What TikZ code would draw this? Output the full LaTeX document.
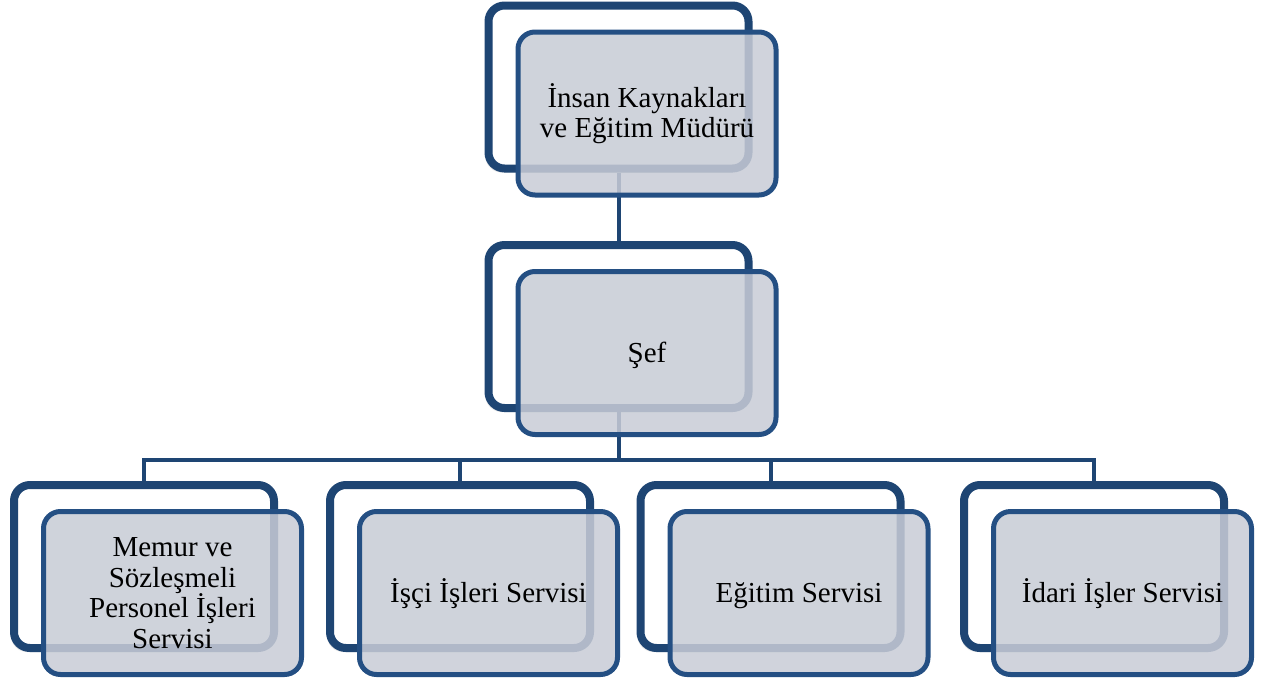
\documentclass[tikz,border=0pt]{standalone}
\usepackage{fontspec}
\setmainfont{Liberation Serif}
\usetikzlibrary{shadows,calc}
\definecolor{navy}{RGB}{30,69,115}
\definecolor{frontline}{RGB}{36,79,131}
\definecolor{frontfill}{RGB}{200,204,214}
\begin{document}
\begin{tikzpicture}[x=1pt,y=-1pt,
  backbox/.style={draw=navy, line width=8pt, fill=white, rounded corners=16pt,
    minimum width=260pt, minimum height=163pt, inner sep=0pt,
    drop shadow={shadow xshift=-3pt, shadow yshift=-4pt, opacity=0.18}},
  frontbox/.style={draw=frontline, line width=5pt, fill=frontfill, fill opacity=0.86,
    text opacity=1, rounded corners=17pt, minimum width=258pt, minimum height=163pt,
    inner sep=0pt, align=center, font=\fontsize{29}{30.5}\selectfont},
  oneline/.style={text height=19pt, text depth=0pt},
  conn/.style={draw=navy, line width=4pt}]
\useasboundingbox (0,0) rectangle (1264,681);
% back boxes
\node[backbox] (tb) at (618.5,87) {};
\node[backbox] (sb) at (618.5,326.5) {};
\node[backbox] (b1) at (144,566.5) {};
\node[backbox] (b2) at (460,566.5) {};
\node[backbox] (b3) at (770.5,566.5) {};
\node[backbox] (b4) at (1094,566.5) {};
% connectors
\draw[conn] (tb.south) -- (sb.north);
\draw[conn] (sb.south) -- ++(0,48) coordinate (bus);
\draw[conn] (b1.north) -- (b1.north |- bus) -- (b4.north |- bus) -- (b4.north);
\draw[conn] (b2.north) -- (b2.north |- bus);
\draw[conn] (b3.north) -- (b3.north |- bus);
% front boxes
\node[frontbox] (tf) at ($(tb)+(28.5,26.5)$) {İnsan Kaynakları\\ve Eğitim Müdürü};
\node[frontbox, oneline] (sf) at ($(sb)+(28.5,26.5)$) {Şef};
\node[frontbox] (f1) at ($(b1)+(28.5,26.5)$) {Memur ve\\Sözleşmeli\\Personel İşleri\\Servisi};
\node[frontbox, oneline] (f2) at ($(b2)+(28.5,26.5)$) {İşçi İşleri Servisi};
\node[frontbox, oneline] (f3) at ($(b3)+(28.5,26.5)$) {Eğitim Servisi};
\node[frontbox, oneline] (f4) at ($(b4)+(28.5,26.5)$) {İdari İşler Servisi};
\end{tikzpicture}
\end{document}
